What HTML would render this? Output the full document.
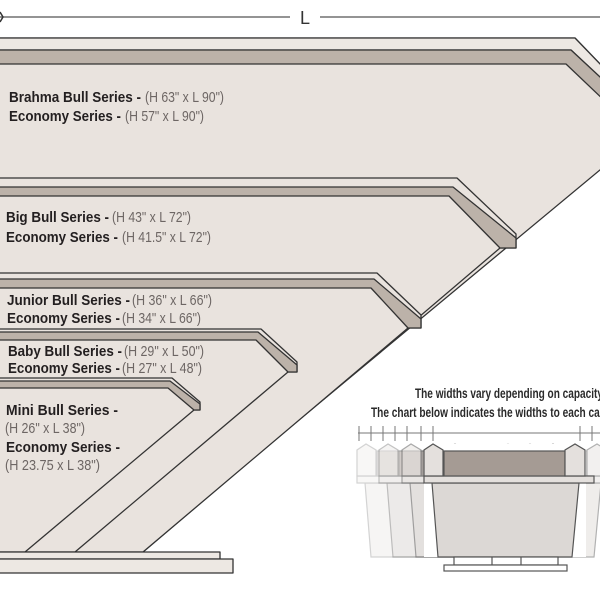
<!DOCTYPE html>
<html><head><meta charset="utf-8"><style>
html,body{margin:0;padding:0;background:#fff;width:600px;height:600px;overflow:hidden}
svg{display:block}
text{font-family:"Liberation Sans",sans-serif}
.b{font-weight:bold;fill:#231f20}
.l{font-weight:normal;fill:#6d6664}
</style></head><body>
<svg width="600" height="600" viewBox="0 0 600 600" xmlns="http://www.w3.org/2000/svg">
<line x1="0" y1="17" x2="290" y2="17" stroke="#555" stroke-width="1.3"/>
<line x1="320" y1="17" x2="600" y2="17" stroke="#555" stroke-width="1.3"/>
<path d="M0 12 L3 17 L0 22" fill="none" stroke="#333" stroke-width="1.5"/>
<text x="300" y="24" font-size="18" fill="#333">L</text>

<g stroke="#333" stroke-width="1.3" stroke-linejoin="round">
<polygon points="-3,38 575,38 630,95 630,145 140,552 -3,552" fill="#e9e3de"/>
<polygon points="-3,38 575,38 630,95 630,105 571,50 -3,50" fill="#ede8e3"/>
<polygon points="-3,50 571,50 630,105 630,125 566,64 -3,64" fill="#bcb2a9"/>
<polygon points="-3,178 457,178 516,234 516,248 500,248 143,552 -3,552" fill="#e9e3de"/>
<polygon points="-3,187 453,187 516,238 516,248 500,248 449,196 -3,196" fill="#bcb2a9"/>
<polygon points="-3,273 377,273 421,315 421,328 408,328 143,552 -3,552" fill="#e9e3de"/>
<polygon points="-3,279 374,279 421,319 421,328 408,328 371,288 -3,288" fill="#bcb2a9"/>
<polygon points="-3,329 261,329 297,362 297,372 288,372 75,552 -3,552" fill="#e9e3de"/>
<polygon points="-3,332 258,332 297,365 297,372 288,372 256,340 -3,340" fill="#bcb2a9"/>
<polygon points="-3,378 172,378 200,402 200,410 194,410 25,552 -3,552" fill="#e9e3de"/>
<polygon points="-3,381 170,381 200,404 200,410 194,410 168,388 -3,388" fill="#bcb2a9"/>
<rect x="-3" y="552" width="223" height="7" fill="#ede8e3"/>
<rect x="-3" y="559" width="236" height="14" fill="#ede8e3"/>
</g>

<g font-size="15" lengthAdjust="spacingAndGlyphs">
<text x="9" y="102" class="b" textLength="132" lengthAdjust="spacingAndGlyphs">Brahma Bull Series -</text>
<text x="145" y="102" class="l" textLength="79" lengthAdjust="spacingAndGlyphs">(H 63" x L 90")</text>
<text x="9" y="121" class="b" textLength="112" lengthAdjust="spacingAndGlyphs">Economy Series -</text>
<text x="125" y="121" class="l" textLength="79" lengthAdjust="spacingAndGlyphs">(H 57" x L 90")</text>
<text x="6" y="222" class="b" textLength="103" lengthAdjust="spacingAndGlyphs">Big Bull Series -</text>
<text x="112" y="222" class="l" textLength="79" lengthAdjust="spacingAndGlyphs">(H 43" x L 72")</text>
<text x="6" y="242" class="b" textLength="112" lengthAdjust="spacingAndGlyphs">Economy Series -</text>
<text x="122" y="242" class="l" textLength="89" lengthAdjust="spacingAndGlyphs">(H 41.5" x L 72")</text>
<text x="7" y="305" class="b" textLength="123" lengthAdjust="spacingAndGlyphs">Junior Bull Series -</text>
<text x="132" y="305" class="l" textLength="80" lengthAdjust="spacingAndGlyphs">(H 36" x L 66")</text>
<text x="7" y="323" class="b" textLength="113" lengthAdjust="spacingAndGlyphs">Economy Series -</text>
<text x="122" y="323" class="l" textLength="79" lengthAdjust="spacingAndGlyphs">(H 34" x L 66")</text>
<text x="8" y="356" class="b" textLength="114" lengthAdjust="spacingAndGlyphs">Baby Bull Series -</text>
<text x="124" y="356" class="l" textLength="80" lengthAdjust="spacingAndGlyphs">(H 29" x L 50")</text>
<text x="8" y="373" class="b" textLength="112" lengthAdjust="spacingAndGlyphs">Economy Series -</text>
<text x="122" y="373" class="l" textLength="80" lengthAdjust="spacingAndGlyphs">(H 27" x L 48")</text>
<text x="6" y="415" class="b" textLength="112" lengthAdjust="spacingAndGlyphs">Mini Bull Series  -</text>
<text x="5" y="433" class="l" textLength="80" lengthAdjust="spacingAndGlyphs">(H 26" x L 38")</text>
<text x="6" y="452" class="b" textLength="114" lengthAdjust="spacingAndGlyphs">Economy Series  -</text>
<text x="5" y="470" class="l" textLength="95" lengthAdjust="spacingAndGlyphs">(H 23.75 x L 38")</text>
</g>

<text x="415" y="398" font-size="14" font-weight="bold" fill="#2a2a2a" textLength="190" lengthAdjust="spacingAndGlyphs">The widths vary depending on capacity.</text>
<text x="371" y="417" font-size="14" font-weight="bold" fill="#2a2a2a" textLength="260" lengthAdjust="spacingAndGlyphs">The chart below indicates the widths to each capacity.</text>

<g stroke="#777" stroke-width="1">
<line x1="358" y1="433" x2="600" y2="433"/>
<line x1="359" y1="426" x2="359" y2="441"/><line x1="371" y1="426" x2="371" y2="441"/>
<line x1="383" y1="426" x2="383" y2="441"/><line x1="395" y1="426" x2="395" y2="441"/>
<line x1="407" y1="426" x2="407" y2="441"/><line x1="421" y1="426" x2="421" y2="441"/>
<line x1="433" y1="426" x2="433" y2="441"/><line x1="580" y1="426" x2="580" y2="441"/>
<line x1="592" y1="426" x2="592" y2="441"/>
</g>

<defs>
<g id="tub" stroke="#555" stroke-width="1.2">
<polygon points="432,483 579,483 572,557 438,557" fill="#dcd8d5"/>
<rect x="424" y="476" width="170" height="7" fill="#e4e0dd"/>
<polygon points="424,476 424,450 433,444 443,450 443,476" fill="#e4e0dd"/>
<rect x="444" y="451" width="121" height="25" fill="#a59b94"/>
<polygon points="565,476 565,450 575,444 585,450 585,476" fill="#e4e0dd"/>
</g>
</defs>
<use href="#tub" transform="translate(-67,0)" opacity="0.25"/>
<use href="#tub" transform="translate(-45,0)" opacity="0.35"/>
<use href="#tub" transform="translate(-22,0)" opacity="0.5"/>
<use href="#tub" transform="translate(22,0)" opacity="0.45"/>
<rect x="424" y="444" width="162" height="113" fill="#fff"/>
<use href="#tub"/>
<g stroke="#555" stroke-width="1.2" fill="#fff">
<rect x="454" y="557" width="104" height="8"/>
<line x1="492" y1="557" x2="492" y2="565"/>
<line x1="521" y1="557" x2="521" y2="565"/>
<rect x="444" y="565" width="123" height="6"/>
</g>
</svg>
</body></html>
